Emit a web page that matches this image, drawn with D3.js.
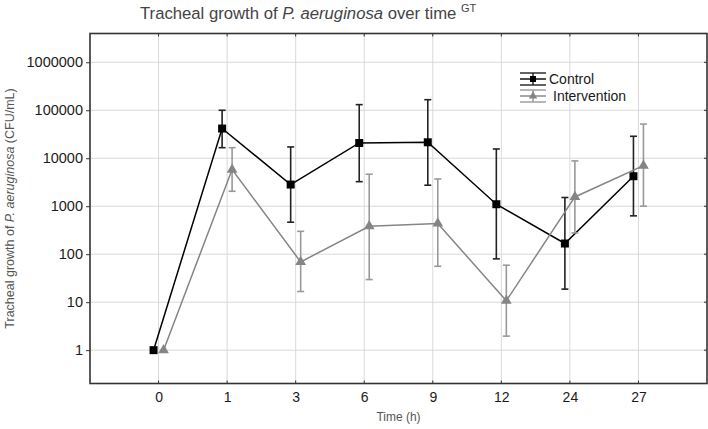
<!DOCTYPE html>
<html>
<head>
<meta charset="utf-8">
<script src="https://cdn.jsdelivr.net/npm/d3@7"></script>
<style>
html,body{margin:0;padding:0;background:#fff;}
svg{display:block;font-family:"Liberation Sans",Arial,sans-serif;}
</style>
</head>
<body>
<svg id="chart" width="708" height="429"></svg>
<script>
const categories = ["0","1","3","6","9","12","24","27"];
const yTicks = [1,10,100,1000,10000,100000,1000000];

const controlMean  = [1, 41600, 2830, 20800, 21500, 1100, 167, 4220];
const controlUpper = [null, 100000, 17200, 131000, 166000, 15600, 1520, 28700];
const controlLower = [null, 16600, 464, 3250, 2740, 80, 18.7, 630];

const interventionMean  = [1, 5800, 69, 383, 436, 10.7, 1560, 7000];
const interventionUpper = [null, 16600, 300, 4640, 3700, 59, 8800, 51600];
const interventionLower = [null, 2050, 16.7, 29.6, 56, 1.96, 278, 1000];

const svg = d3.select("#chart");
const L = 90, R = 707, T = 33.5, B = 383.5;

const x = d3.scaleLinear().domain([-1, categories.length]).range([L, R]);
const y = d3.scaleLog().domain([Math.pow(10,-0.695), Math.pow(10,6.6)]).range([B, T]);

// gridlines
const grid = svg.append("g");
grid.selectAll("line.v").data(categories).enter().append("line")
  .attr("x1",(d,i)=>x(i)).attr("x2",(d,i)=>x(i)).attr("y1",T).attr("y2",B)
  .attr("stroke","#d9d9d9").attr("stroke-width",1);
grid.selectAll("line.h").data(yTicks).enter().append("line")
  .attr("x1",L).attr("x2",R).attr("y1",d=>y(d)).attr("y2",d=>y(d))
  .attr("stroke","#d9d9d9").attr("stroke-width",1);

// axes
const xAxis = d3.axisBottom(x).tickValues(d3.range(categories.length))
  .tickFormat(i=>categories[i]).tickSize(0).tickPadding(9);
const gx = svg.append("g").attr("transform",`translate(0,${B})`).call(xAxis);
gx.select(".domain").remove();
gx.selectAll("text").attr("font-size","14px").attr("fill","#1a1a1a").attr("font-family","Liberation Sans, Arial, sans-serif");

const yAxis = d3.axisLeft(y).tickValues(yTicks).tickFormat(d3.format("d")).tickSize(4).tickPadding(3);
const gy = svg.append("g").attr("transform",`translate(${L},0)`).call(yAxis);
gy.select(".domain").remove();
gy.selectAll("line").attr("stroke","#333");
gy.selectAll("text").attr("font-size","14.5px").attr("fill","#1a1a1a").attr("font-family","Liberation Sans, Arial, sans-serif");

// inner ticks on top / bottom / right
const tk = svg.append("g").attr("stroke","#333").attr("stroke-width",1);
tk.selectAll("line.t").data(categories).enter().append("line")
  .attr("x1",(d,i)=>x(i)).attr("x2",(d,i)=>x(i)).attr("y1",T).attr("y2",T+3);
tk.selectAll("line.b").data(categories).enter().append("line")
  .attr("x1",(d,i)=>x(i)).attr("x2",(d,i)=>x(i)).attr("y1",B).attr("y2",B-3);
tk.selectAll("line.r").data(yTicks).enter().append("line")
  .attr("x1",R).attr("x2",R-3).attr("y1",d=>y(d)).attr("y2",d=>y(d));

// frame
svg.append("rect").attr("x",L).attr("y",T).attr("width",R-L).attr("height",B-T)
  .attr("fill","none").attr("stroke","#333").attr("stroke-width",1.6);

// series
const series = [
  {name:"Control", mean:controlMean, up:controlUpper, lo:controlLower, dx:-5, color:"#000", ecolor:"#222", shape:"square"},
  {name:"Intervention", mean:interventionMean, up:interventionUpper, lo:interventionLower, dx:5, color:"#858585", ecolor:"#999", shape:"triangle"}
];

series.forEach(s=>{
  const g = svg.append("g");
  const pts = s.mean.map((v,i)=>({i,v,up:s.up[i],lo:s.lo[i]}));
  const eb = g.selectAll("g.eb").data(pts.filter(p=>p.up!=null)).enter().append("g")
    .attr("stroke",s.ecolor).attr("stroke-width",1.6);
  eb.append("line").attr("x1",p=>x(p.i)+s.dx).attr("x2",p=>x(p.i)+s.dx)
    .attr("y1",p=>y(p.up)).attr("y2",p=>y(p.lo));
  eb.append("line").attr("x1",p=>x(p.i)+s.dx-3.5).attr("x2",p=>x(p.i)+s.dx+3.5)
    .attr("y1",p=>y(p.up)).attr("y2",p=>y(p.up));
  eb.append("line").attr("x1",p=>x(p.i)+s.dx-3.5).attr("x2",p=>x(p.i)+s.dx+3.5)
    .attr("y1",p=>y(p.lo)).attr("y2",p=>y(p.lo));
  g.append("path").datum(pts)
    .attr("d", d3.line().x(p=>x(p.i)+s.dx).y(p=>y(p.v)))
    .attr("fill","none").attr("stroke",s.color).attr("stroke-width",1.5);
  const sym = s.shape==="square" ? d3.symbol().type(d3.symbolSquare).size(64)
                                  : d3.symbol().type(d3.symbolTriangle).size(50);
  g.selectAll("path.m").data(pts).enter().append("path")
    .attr("d",sym).attr("transform",p=>`translate(${x(p.i)+s.dx},${y(p.v)})`)
    .attr("fill",s.color);
});

// legend
const lg = svg.append("g");
series.forEach((s,k)=>{
  const cy = 79 + k*17, x0 = 520, x1 = 546, cx = (x0+x1)/2;
  const gg = lg.append("g").attr("stroke",s.ecolor).attr("stroke-width",1.4);
  [-6,0,6].forEach(o=>gg.append("line").attr("x1",x0).attr("x2",x1).attr("y1",cy+o).attr("y2",cy+o)
     .attr("stroke", o===0 ? s.color : s.ecolor));
  gg.append("line").attr("x1",cx).attr("x2",cx).attr("y1",cy-6).attr("y2",cy+6);
  const sym = s.shape==="square" ? d3.symbol().type(d3.symbolSquare).size(36)
                                  : d3.symbol().type(d3.symbolTriangle).size(30);
  lg.append("path").attr("d",sym).attr("transform",`translate(${cx},${cy})`).attr("fill",s.color);
  lg.append("text").attr("x", k===0 ? 549 : 553).attr("y",cy+5).text(s.name)
    .attr("font-size","14px").attr("fill","#1a1a1a");
});

// title
const title = svg.append("text").attr("x",140).attr("y",19).attr("font-size","16.7px").attr("fill","#444");
title.append("tspan").text("Tracheal growth of ");
title.append("tspan").attr("font-style","italic").text("P. aeruginosa");
title.append("tspan").text(" over time ");
title.append("tspan").attr("font-size","11px").attr("dy","-7").text("GT");

// axis titles
svg.append("text").attr("x", (x(3)+x(4))/2).attr("y",421).attr("text-anchor","middle")
  .attr("font-size","12px").attr("fill","#555").text("Time (h)");

const yl = svg.append("text").attr("transform",`translate(14,${(T+B)/2}) rotate(-90)`)
  .attr("text-anchor","middle").attr("font-size","12.5px").attr("fill","#555");
yl.append("tspan").text("Tracheal growth of ");
yl.append("tspan").attr("font-style","italic").text("P. aeruginosa");
yl.append("tspan").text(" (CFU/mL)");
</script>
</body>
</html>
